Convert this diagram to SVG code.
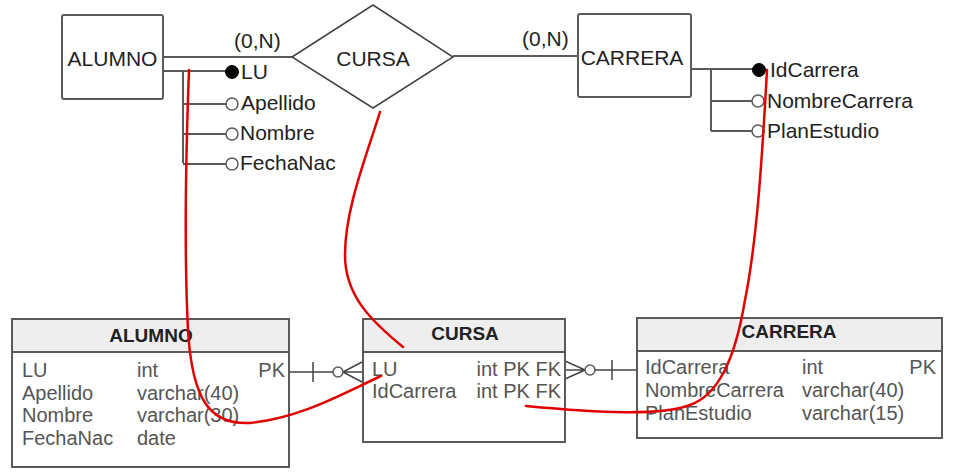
<svg xmlns="http://www.w3.org/2000/svg" width="955" height="473" viewBox="0 0 955 473">
<style>
.er{fill:#fff;stroke:#5a5a5a;stroke-width:2}
.ln{fill:none;stroke:#5a5a5a;stroke-width:2}
.lt{fill:none;stroke:#444;stroke-width:1.5}
.t1{font-family:"Liberation Sans",Arial,sans-serif;font-size:21px;fill:#222}
.t2{font-family:"Liberation Sans",Arial,sans-serif;font-size:20px;fill:#555}
.th{font-family:"Liberation Sans",Arial,sans-serif;font-size:19px;font-weight:bold;fill:#222;text-anchor:middle}
.tb{fill:#fff;stroke:#5a5a5a;stroke-width:2}
.hd{fill:#eeeeee;stroke:#5a5a5a;stroke-width:2}
.pk{fill:#000;stroke:#000;stroke-width:1}
.at{fill:#fff;stroke:#5a5a5a;stroke-width:1.5}
.red{fill:none;stroke:#e00000;stroke-width:2.5;stroke-linecap:round}
</style>

<g id="connectors">
  <line class="ln" x1="163" y1="57" x2="292" y2="57"/>
  <line class="ln" x1="453" y1="56" x2="578" y2="56"/>
  <text class="t1" x="234" y="48">(0,N)</text>
  <text class="t1" x="522" y="46">(0,N)</text>
  <path class="ln" d="M163,71 H226 M183,71 V163 M183,104 H226 M183,134 H226 M183,164 H226"/>
  <path class="ln" d="M691,69 H753 M711,69 V131 M711,101 H752 M711,131 H752"/>
  <path class="lt" d="M289,372 H333 M313,362 V382 M343,372 L362,362 M343,372 H362 M343,372 L362,382"/>
  <circle class="at" cx="338" cy="372" r="5"/>
  <path class="lt" d="M565,361 L585,370 M565,370 H585 M565,379 L585,370 M595,370 H637 M612,360 V380"/>
  <circle class="at" cx="590" cy="370" r="5"/>
</g>

<g id="er-alumno">
  <rect class="er" x="62" y="15" width="101" height="84" rx="2"/>
  <text class="t1" x="112.5" y="66" text-anchor="middle">ALUMNO</text>
</g>
<g id="er-cursa">
  <polygon class="lt" points="292,57 373,5 453,57 373,108" fill="#fff"/>
  <text class="t1" x="373" y="66" text-anchor="middle">CURSA</text>
</g>
<g id="er-carrera">
  <rect class="er" x="578" y="14" width="113" height="83" rx="2"/>
  <text class="t1" x="632" y="65" text-anchor="middle">CARRERA</text>
</g>

<g id="attr-alumno-lu"><circle class="pk" cx="232" cy="72" r="6.5"/><text class="t1" x="241" y="79">LU</text></g>
<g id="attr-alumno-apellido"><circle class="at" cx="232" cy="104" r="6"/><text class="t1" x="241" y="110">Apellido</text></g>
<g id="attr-alumno-nombre"><circle class="at" cx="232" cy="134" r="6"/><text class="t1" x="240" y="140">Nombre</text></g>
<g id="attr-alumno-fechanac"><circle class="at" cx="232" cy="164" r="6"/><text class="t1" x="240" y="170">FechaNac</text></g>

<g id="attr-carrera-idcarrera"><circle class="pk" cx="759" cy="70" r="6.5"/><text class="t1" x="770" y="77">IdCarrera</text></g>
<g id="attr-carrera-nombrecarrera"><circle class="at" cx="758" cy="101" r="6"/><text class="t1" x="767" y="108">NombreCarrera</text></g>
<g id="attr-carrera-planestudio"><circle class="at" cx="758" cy="131" r="6"/><text class="t1" x="767" y="138">PlanEstudio</text></g>

<g id="table-alumno">
  <rect class="tb" x="12" y="319" width="277" height="148"/>
  <rect class="hd" x="12" y="319" width="277" height="33"/>
  <text class="th" x="151" y="342">ALUMNO</text>
  <text class="t2" x="22" y="377">LU</text><text class="t2" x="137" y="377">int</text><text class="t2" x="285" y="377" text-anchor="end">PK</text>
  <text class="t2" x="22" y="400">Apellido</text><text class="t2" x="137" y="400">varchar(40)</text>
  <text class="t2" x="22" y="422">Nombre</text><text class="t2" x="137" y="422">varchar(30)</text>
  <text class="t2" x="22" y="445">FechaNac</text><text class="t2" x="137" y="445">date</text>
</g>

<g id="table-cursa">
  <rect class="tb" x="363" y="319" width="202" height="123"/>
  <rect class="hd" x="363" y="319" width="202" height="33"/>
  <text class="th" x="465" y="340">CURSA</text>
  <text class="t2" x="372" y="376">LU</text><text class="t2" x="561" y="376" text-anchor="end">int PK FK</text>
  <text class="t2" x="372" y="398">IdCarrera</text><text class="t2" x="561" y="398" text-anchor="end">int PK FK</text>
</g>

<g id="table-carrera">
  <rect class="tb" x="637" y="318" width="305" height="120"/>
  <rect class="hd" x="637" y="318" width="305" height="33"/>
  <text class="th" x="789" y="338">CARRERA</text>
  <text class="t2" x="645" y="374">IdCarrera</text><text class="t2" x="802" y="374">int</text><text class="t2" x="936" y="374" text-anchor="end">PK</text>
  <text class="t2" x="645" y="397">NombreCarrera</text><text class="t2" x="802" y="397">varchar(40)</text>
  <text class="t2" x="645" y="420">PlanEstudio</text><text class="t2" x="802" y="420">varchar(15)</text>
</g>

<g id="annotations">
  <path class="red" d="M189,70 C186,150 184,250 188,330 C192,400 210,425 250,423 C300,418 340,395 381,376"/>
  <path class="red" d="M380,112 C365,160 345,210 345,255 C345,295 370,320 403,347"/>
  <path class="red" d="M767,70 C762,160 757,240 745,300 C735,360 718,395 690,405 C660,416 600,413 526,406"/>
</g>
</svg>
